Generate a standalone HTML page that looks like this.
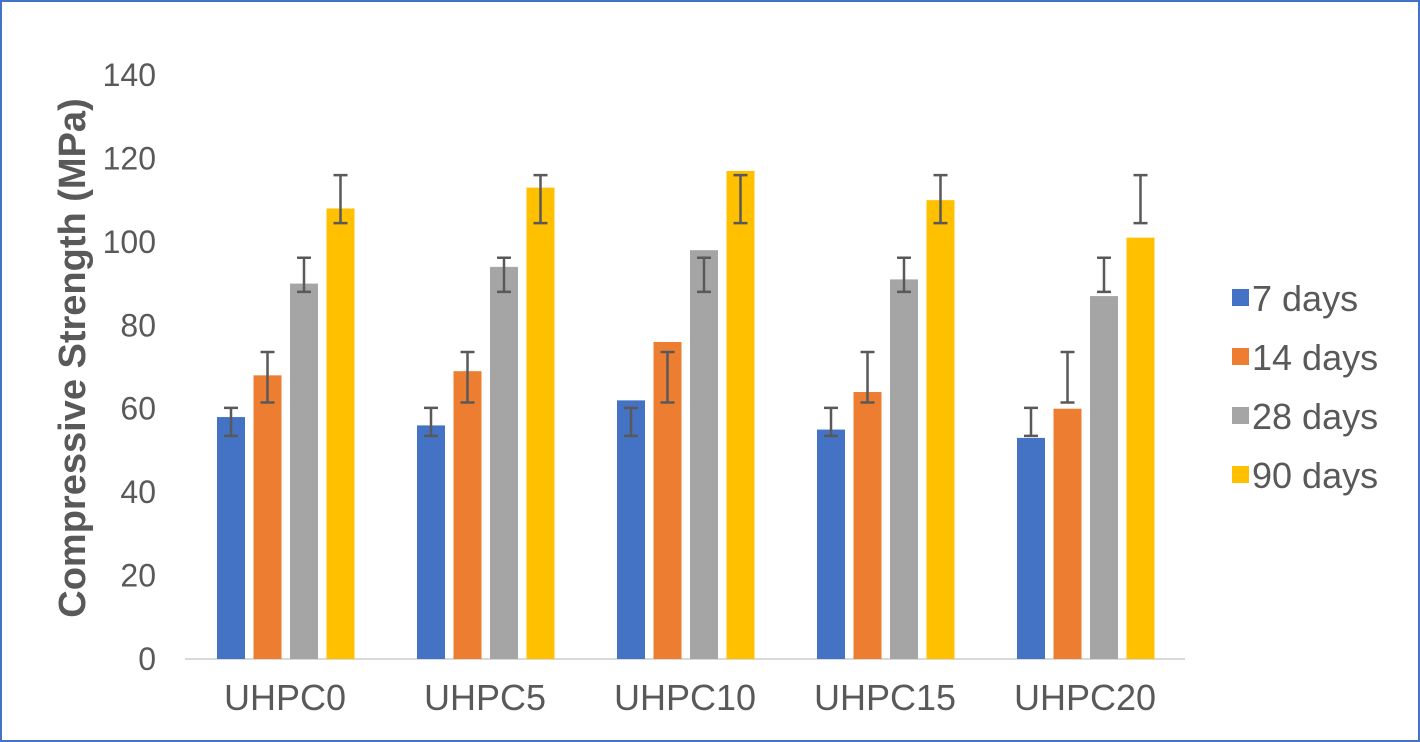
<!DOCTYPE html>
<html><head><meta charset="utf-8"><style>
html,body{margin:0;padding:0;background:#fff;}
svg{display:block;font-family:"Liberation Sans",Arial,sans-serif;}
</style></head><body>
<svg id="chart" width="1420" height="742">
<rect x="1" y="1" width="1418" height="740" fill="#fff" stroke="#4472c4" stroke-width="2"/>
<text transform="translate(85,358) rotate(-90)" text-anchor="middle" font-size="38" font-weight="bold" fill="#595959">Compressive Strength (MPa)</text>
<g id="yticks"></g><g id="bars"></g><g id="errs"></g><g id="xlabels"></g><g id="legend"></g>
</svg>
<script>
const categories = ["UHPC0","UHPC5","UHPC10","UHPC15","UHPC20"];
const seriesNames = ["7 days","14 days","28 days","90 days"];
const s7 = [58,56,62,55,53];
const s14 = [68,69,76,64,60];
const s28 = [90,94,98,91,87];
const s90 = [108,113,117,110,101];
const errLow = [53.5,61.5,88,104.5];
const errHigh = [60.2,73.6,96.2,116];
const yTicks = [0,20,40,60,80,100,120,140];
const colors = ["#4472c4","#ed7d31","#a5a5a5","#ffc000"];
const series = [s7,s14,s28,s90];
const NS = "http://www.w3.org/2000/svg";
const x0 = 185, groupW = 200, y0 = 659, yTop = 75, yMax = 140;
const yScale = v => y0 - (v / yMax) * (y0 - yTop);
const barW = 28, barStep = 36.5;
const barX = (c, s) => x0 + c * groupW + 32 + s * barStep;
function mk(tag, attrs, parent, txt){const e=document.createElementNS(NS,tag);for(const k in attrs)e.setAttribute(k,attrs[k]);if(txt!==undefined)e.textContent=txt;document.getElementById(parent).appendChild(e);return e;}
yTicks.forEach(t=>{
  const e = mk("text",{x:156,y:yScale(t)+11,"text-anchor":"end","font-size":"32",fill:"#595959"},"yticks",t);
  
  
});
const ax = mk("line",{x1:x0,x2:x0+groupW*categories.length,y1:y0,y2:y0,stroke:"#d9d9d9","stroke-width":2},"yticks");


categories.forEach((c,ci)=>{
  series.forEach((s,si)=>{
    const x = barX(ci,si);
    const b = mk("rect",{x:x,y:yScale(s[ci]),width:barW,height:y0-yScale(s[ci]),fill:colors[si]},"bars");
    
    
    const cx = x + barW/2, yl = yScale(errLow[si]), yh = yScale(errHigh[si]);
    const g = mk("path",{d:`M${cx},${yh}V${yl}M${cx-7},${yh}H${cx+7}M${cx-7},${yl}H${cx+7}`,stroke:"#595959","stroke-width":2.5,fill:"none"},"errs");
    
    
  });
  const l = mk("text",{x:x0+ci*groupW+groupW/2,y:710,"text-anchor":"middle","font-size":"36",fill:"#595959"},"xlabels",c);
  
  
});
seriesNames.forEach((n,i)=>{
  const y = 298 + i*59;
  const sq = mk("rect",{x:1232,y:y-9,width:17,height:17,fill:colors[i]},"legend");
  
  
  const t = mk("text",{x:1252,y:y+13,"font-size":"36",fill:"#595959"},"legend",n);
  
  
});
</script>
</body></html>
